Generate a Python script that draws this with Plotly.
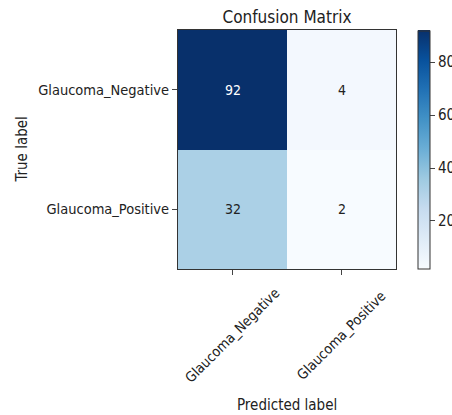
import plotly.graph_objects as go

# Confusion matrix counts (rows: true label, columns: predicted label)
classes = ["Glaucoma_Negative", "Glaucoma_Positive"]
counts = [[92, 4],
          [32, 2]]
cbar_ticks = [20, 40, 60, 80]

# matplotlib-style "Blues" colormap
blues = [
    [0.0, "#f7fbff"], [0.125, "#deebf7"], [0.25, "#c6dbef"],
    [0.375, "#9ecae1"], [0.5, "#6baed6"], [0.625, "#4292c6"],
    [0.75, "#2171b5"], [0.875, "#08519c"], [1.0, "#08306b"],
]

FONT = "DejaVu Sans Condensed, Liberation Sans Narrow, DejaVu Sans"
TXT = "#222"

zmin = min(min(r) for r in counts)
zmax = max(max(r) for r in counts)
thresh = zmax / 2.0

fig = go.Figure(go.Heatmap(
    z=counts, x=classes, y=classes,
    colorscale=blues, zmin=zmin, zmax=zmax,
    colorbar=dict(
        thickness=12, lenmode="pixels", len=238,
        x=1.10, xanchor="left", xpad=0, y=0.5, yanchor="middle", ypad=0,
        tickvals=cbar_ticks, ticks="outside", ticklen=5,
        tickfont=dict(family=FONT, size=15, color=TXT),
        outlinecolor="#333", outlinewidth=1,
    ),
    hoverinfo="skip",
))

# cell values
for i, row in enumerate(counts):
    for j, v in enumerate(row):
        fig.add_annotation(
            x=classes[j], y=classes[i], text=str(v), showarrow=False,
            font=dict(family=FONT, size=14,
                      color="white" if v > thresh else TXT),
        )

# rotated x tick labels, centred under each tick
for c in classes:
    fig.add_annotation(
        x=c, xref="x", y=-0.277, yref="paper", text=c, showarrow=False,
        textangle=-45, xanchor="center", yanchor="middle",
        font=dict(family=FONT, size=14, color=TXT),
    )

# axis titles
fig.add_annotation(
    x=0.5, xref="paper", y=-0.567, yref="paper", text="Predicted label",
    showarrow=False, xanchor="center", yanchor="middle",
    font=dict(family=FONT, size=15, color=TXT),
)
fig.add_annotation(
    x=-0.72, xref="paper", y=0.5, yref="paper", text="True label",
    showarrow=False, textangle=-90, xanchor="center", yanchor="middle",
    font=dict(family=FONT, size=15, color=TXT),
)

fig.update_layout(
    width=452, height=415,
    margin=dict(l=178, r=56, t=30, b=146, autoexpand=False),
    paper_bgcolor="white", plot_bgcolor="white",
    title=dict(text="Confusion Matrix", x=0.5, xref="paper", xanchor="center",
               y=1, yref="paper", yanchor="bottom", pad=dict(b=7),
               font=dict(family=FONT, size=17, color=TXT)),
    font=dict(family=FONT, size=14, color=TXT),
)
fig.update_xaxes(
    showticklabels=False, ticks="outside", ticklen=5,
    showline=True, linecolor="#333", mirror=True, showgrid=False,
)
fig.update_yaxes(
    autorange="reversed", ticks="outside", ticklen=5, tickfont=dict(size=14.5),
    showline=True, linecolor="#333", mirror=True, showgrid=False,
)

fig.write_html("out.html")
